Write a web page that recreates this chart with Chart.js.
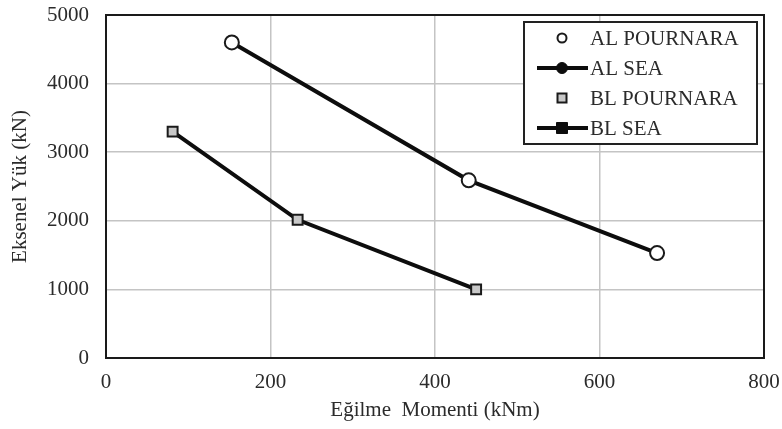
<!DOCTYPE html>
<html>
<head>
<meta charset="utf-8">
<script src="https://cdn.jsdelivr.net/npm/chart.js@4"></script>
<style>
  html, body { margin: 0; padding: 0; background: #fff; }
  #wrap { width: 782px; height: 429px; }
</style>
</head>
<body>
<div id="wrap"><canvas id="c" width="782" height="429"></canvas></div>
<script>
// Axial load vs. bending moment for AL and BL sections
const seriesNames = ['AL POURNARA', 'AL SEA', 'BL POURNARA', 'BL SEA'];
const alMoment = [153, 441, 670];
const alLoad = [4600, 2590, 1530];
const blMoment = [81, 233, 450];
const blLoad = [3300, 2015, 1000];
const xTicks = [0, 200, 400, 600, 800];
const yTicks = [0, 1000, 2000, 3000, 4000, 5000];

const toPts = (xs, ys) => xs.map((x, i) => ({ x: x, y: ys[i] }));

const FONT = 'Liberation Serif';
const TEXT = '#2b2b2b';
const INK = '#0d0d0d';

// Framed plot area with a boxed legend inside the top-right corner
const framePlugin = {
  id: 'frame',
  afterDraw(chart) {
    const { ctx, chartArea: a } = chart;
    ctx.save();
    ctx.strokeStyle = '#1a1a1a';
    ctx.lineWidth = 2;
    ctx.strokeRect(a.left, a.top, a.right - a.left, a.bottom - a.top);

    // legend box
    const bx = 524, by = 22, bw = 233, bh = 122;
    ctx.fillStyle = '#fff';
    ctx.fillRect(bx, by, bw, bh);
    ctx.lineWidth = 2;
    ctx.strokeStyle = '#222';
    ctx.strokeRect(bx, by, bw, bh);

    const rows = [38, 68, 98, 128];
    chart.data.datasets.forEach((ds, i) => {
      const y = rows[i];
      const mx = 562;
      if (ds.showLine) {
        ctx.strokeStyle = ds.borderColor;
        ctx.lineWidth = ds.borderWidth;
        ctx.beginPath();
        ctx.moveTo(537, y);
        ctx.lineTo(588, y);
        ctx.stroke();
      }
      ctx.fillStyle = ds.pointBackgroundColor;
      ctx.strokeStyle = ds.pointBorderColor;
      ctx.lineWidth = ds.pointBorderWidth;
      ctx.beginPath();
      const r = ds.showLine ? 5.5 : 4.5;
      if (ds.pointStyle === 'rect') {
        ctx.rect(mx - r, y - r, 2 * r, 2 * r);
      } else {
        ctx.arc(mx, y, r, 0, Math.PI * 2);
      }
      ctx.fill();
      ctx.stroke();
      ctx.fillStyle = TEXT;
      ctx.font = '21px "' + FONT + '"';
      ctx.textBaseline = 'middle';
      ctx.textAlign = 'left';
      ctx.fillText(ds.label, 590, y + 1);
    });
    ctx.restore();
  }
};

new Chart(document.getElementById('c'), {
  type: 'scatter',
  data: {
    datasets: [
      {
        label: seriesNames[0], data: toPts(alMoment, alLoad), showLine: false,
        pointStyle: 'circle', pointRadius: 7, pointBackgroundColor: '#ffffff',
        pointBorderColor: '#1a1a1a', pointBorderWidth: 2, order: 0
      },
      {
        label: seriesNames[1], data: toPts(alMoment, alLoad), showLine: true,
        borderColor: INK, borderWidth: 4, pointStyle: 'circle', pointRadius: 6,
        pointBackgroundColor: INK, pointBorderColor: INK, pointBorderWidth: 1, order: 1
      },
      {
        label: seriesNames[2], data: toPts(blMoment, blLoad), showLine: false,
        pointStyle: 'rect', pointRadius: 7, pointBackgroundColor: '#c8c8c8',
        pointBorderColor: '#1a1a1a', pointBorderWidth: 2, order: 0
      },
      {
        label: seriesNames[3], data: toPts(blMoment, blLoad), showLine: true,
        borderColor: INK, borderWidth: 4, pointStyle: 'rect', pointRadius: 6,
        pointBackgroundColor: INK, pointBorderColor: INK, pointBorderWidth: 1, order: 1
      }
    ]
  },
  options: {
    responsive: false,
    animation: false,
    devicePixelRatio: 1,
    layout: { padding: { left: 8, right: 18, top: 15, bottom: 6 } },
    plugins: { legend: { display: false }, tooltip: { enabled: false } },
    scales: {
      x: {
        type: 'linear', min: 0, max: 800,
        afterBuildTicks: s => { s.ticks = xTicks.map(v => ({ value: v })); },
        afterFit: s => { s.height = 65; s.paddingLeft = 0; s.paddingRight = 0; },
        grid: { color: '#c4c4c4', lineWidth: 1.5, drawTicks: false },
        border: { display: false },
        ticks: { color: TEXT, font: { family: FONT, size: 21 }, padding: 12, maxRotation: 0,
                 callback: v => String(v) },
        title: { display: true, text: 'Eğilme  Momenti (kNm)', color: TEXT,
                 font: { family: FONT, size: 21 }, padding: { top: 0, bottom: 0 } }
      },
      y: {
        type: 'linear', min: 0, max: 5000,
        afterBuildTicks: s => { s.ticks = yTicks.map(v => ({ value: v })); },
        afterFit: s => { s.width = 98; s.paddingTop = 0; s.paddingBottom = 0; },
        grid: { color: '#c4c4c4', lineWidth: 1.5, drawTicks: false },
        border: { display: false },
        ticks: { color: TEXT, font: { family: FONT, size: 21 }, padding: 17,
                 callback: v => String(v) },
        title: { display: true, text: 'Eksenel Yük (kN)', color: TEXT,
                 font: { family: FONT, size: 21 }, padding: { top: 0, bottom: 4 } }
      }
    }
  },
  plugins: [framePlugin]
});
</script>
</body>
</html>
